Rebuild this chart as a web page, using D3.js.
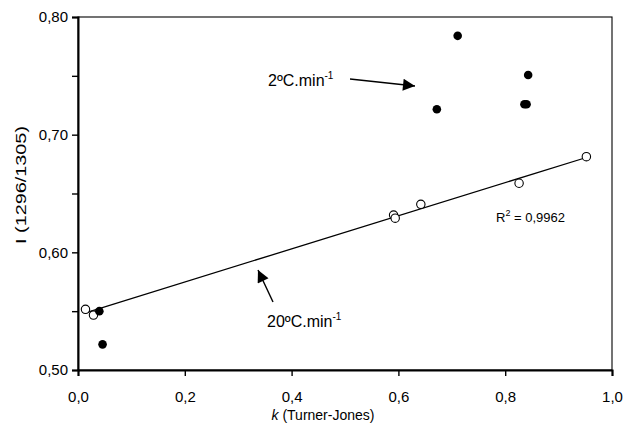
<!DOCTYPE html>
<html>
<head>
<meta charset="utf-8">
<script src="https://cdn.jsdelivr.net/npm/d3@7"></script>
<style>
body { margin: 0; background: #fff; }
text { font-family: "Liberation Sans", Arial, sans-serif; fill: #000; }
</style>
</head>
<body>
<script>
var w = 626;
var h = 430;

// 20 C/min series (open circles)
var kOpen = [0.014, 0.029, 0.591, 0.594, 0.642, 0.826, 0.952];
var iOpen = [0.5516, 0.5467, 0.6317, 0.6290, 0.6408, 0.6587, 0.6813];

// 2 C/min series (filled circles)
var kFilled = [0.040, 0.046, 0.672, 0.711, 0.836, 0.840, 0.843];
var iFilled = [0.5500, 0.5218, 0.7216, 0.7840, 0.7258, 0.7258, 0.7507];

var xTicks = [0, 0.2, 0.4, 0.6, 0.8, 1.0];
var yTicks = [0.50, 0.60, 0.70, 0.80];
var yMinor = [0.55, 0.65, 0.75];

var margin = {left: 78, right: 14, top: 17, bottom: 60};

var svg = d3.select("body")
    .append("svg")
    .attr("width", w)
    .attr("height", h);

var x = d3.scaleLinear().domain([0, 1]).range([margin.left, w - margin.right]);
var y = d3.scaleLinear().domain([0.5, 0.8]).range([h - margin.bottom, margin.top]);

var fmt = function(d, n) { return d.toFixed(n).replace(".", ","); };

// frame (top and right)
svg.append("rect")
    .attr("x", x(0)).attr("y", y(0.8))
    .attr("width", x(1) - x(0)).attr("height", y(0.5) - y(0.8))
    .attr("fill", "none").attr("stroke", "#000").attr("stroke-width", 1.1);

// x axis
var xAxis = svg.append("g")
    .attr("transform", "translate(0," + y(0.5) + ")")
    .call(d3.axisBottom(x).tickValues(xTicks).tickSize(6).tickPadding(15)
        .tickFormat(function(d) { return fmt(d, 1); }));
xAxis.select(".domain").attr("stroke-width", 2);
xAxis.selectAll("line").attr("stroke-width", 1.4);
xAxis.selectAll("text").style("font-size", "15px").attr("font-family", null);

// y axis
var yAxis = svg.append("g")
    .attr("transform", "translate(" + x(0) + ",0)")
    .call(d3.axisLeft(y).tickValues(yTicks.concat(yMinor)).tickSize(6).tickPadding(4)
        .tickFormat(function(d) { return yTicks.indexOf(d) >= 0 ? fmt(d, 2) : ""; }));
yAxis.select(".domain").attr("stroke-width", 2);
yAxis.selectAll("line").attr("stroke-width", 1.4);
yAxis.selectAll("text").style("font-size", "15px").attr("font-family", null);

// axis titles
var xt = svg.append("text")
    .attr("x", 323).attr("y", h - 10)
    .attr("text-anchor", "middle").style("font-size", "14px");
xt.append("tspan").style("font-style", "italic").text("k");
xt.append("tspan").text(" (Turner-Jones)");

svg.append("text")
    .attr("transform", "translate(26,185) rotate(-90)")
    .attr("text-anchor", "middle").style("font-size", "15px")
    .attr("textLength", 118).attr("lengthAdjust", "spacingAndGlyphs")
    .text("I (1296/1305)");

// regression line through the open circles
var mx = d3.mean(kOpen), my = d3.mean(iOpen);
var sxy = d3.sum(kOpen, function(d, i) { return (d - mx) * (iOpen[i] - my); });
var sxx = d3.sum(kOpen, function(d) { return (d - mx) * (d - mx); });
var slope = sxy / sxx, icpt = my - slope * mx;
var x0 = d3.min(kOpen), x1 = d3.max(kOpen);
svg.append("line")
    .attr("x1", x(x0)).attr("y1", y(icpt + slope * x0))
    .attr("x2", x(x1)).attr("y2", y(icpt + slope * x1))
    .attr("stroke", "#000").attr("stroke-width", 1.3);

// points
svg.selectAll("circle.open")
    .data(kOpen)
    .enter()
    .append("circle")
    .attr("class", "open")
    .attr("cx", function(d) { return x(d); })
    .attr("cy", function(d, i) { return y(iOpen[i]); })
    .attr("r", 4.2)
    .attr("fill", "#fff").attr("stroke", "#000").attr("stroke-width", 1.1);

svg.selectAll("circle.filled")
    .data(kFilled)
    .enter()
    .append("circle")
    .attr("class", "filled")
    .attr("cx", function(d) { return x(d); })
    .attr("cy", function(d, i) { return y(iFilled[i]); })
    .attr("r", 4.3)
    .attr("fill", "#000");

// R^2 label
var r2 = svg.append("text")
    .attr("x", 496).attr("y", 222).style("font-size", "13px");
r2.append("tspan").text("R");
r2.append("tspan").attr("dy", -6).style("font-size", "9px").text("2");
r2.append("tspan").attr("dy", 6).text(" = 0,9962");

// arrows with labels
svg.append("defs").append("marker")
    .attr("id", "head")
    .attr("viewBox", "0 0 10 10").attr("refX", 10).attr("refY", 5)
    .attr("markerWidth", 14).attr("markerHeight", 12).attr("markerUnits", "userSpaceOnUse")
    .attr("orient", "auto")
    .append("path").attr("d", "M0,0L10,5L0,10Z").attr("fill", "#000");

function label(tx, ty, ax1, ay1, ax2, ay2, main) {
    var t = svg.append("text").attr("x", tx).attr("y", ty).style("font-size", "16px");
    t.append("tspan").text(main);
    t.append("tspan").attr("dy", -7).style("font-size", "10px").text("-1");
    svg.append("line")
        .attr("x1", ax1).attr("y1", ay1).attr("x2", ax2).attr("y2", ay2)
        .attr("stroke", "#000").attr("stroke-width", 1.4)
        .attr("marker-end", "url(#head)");
}
label(268, 86, 350, 79, 415, 86, "2ºC.min");
label(267, 327, 273, 302, 258, 270, "20ºC.min");
</script>
</body>
</html>
